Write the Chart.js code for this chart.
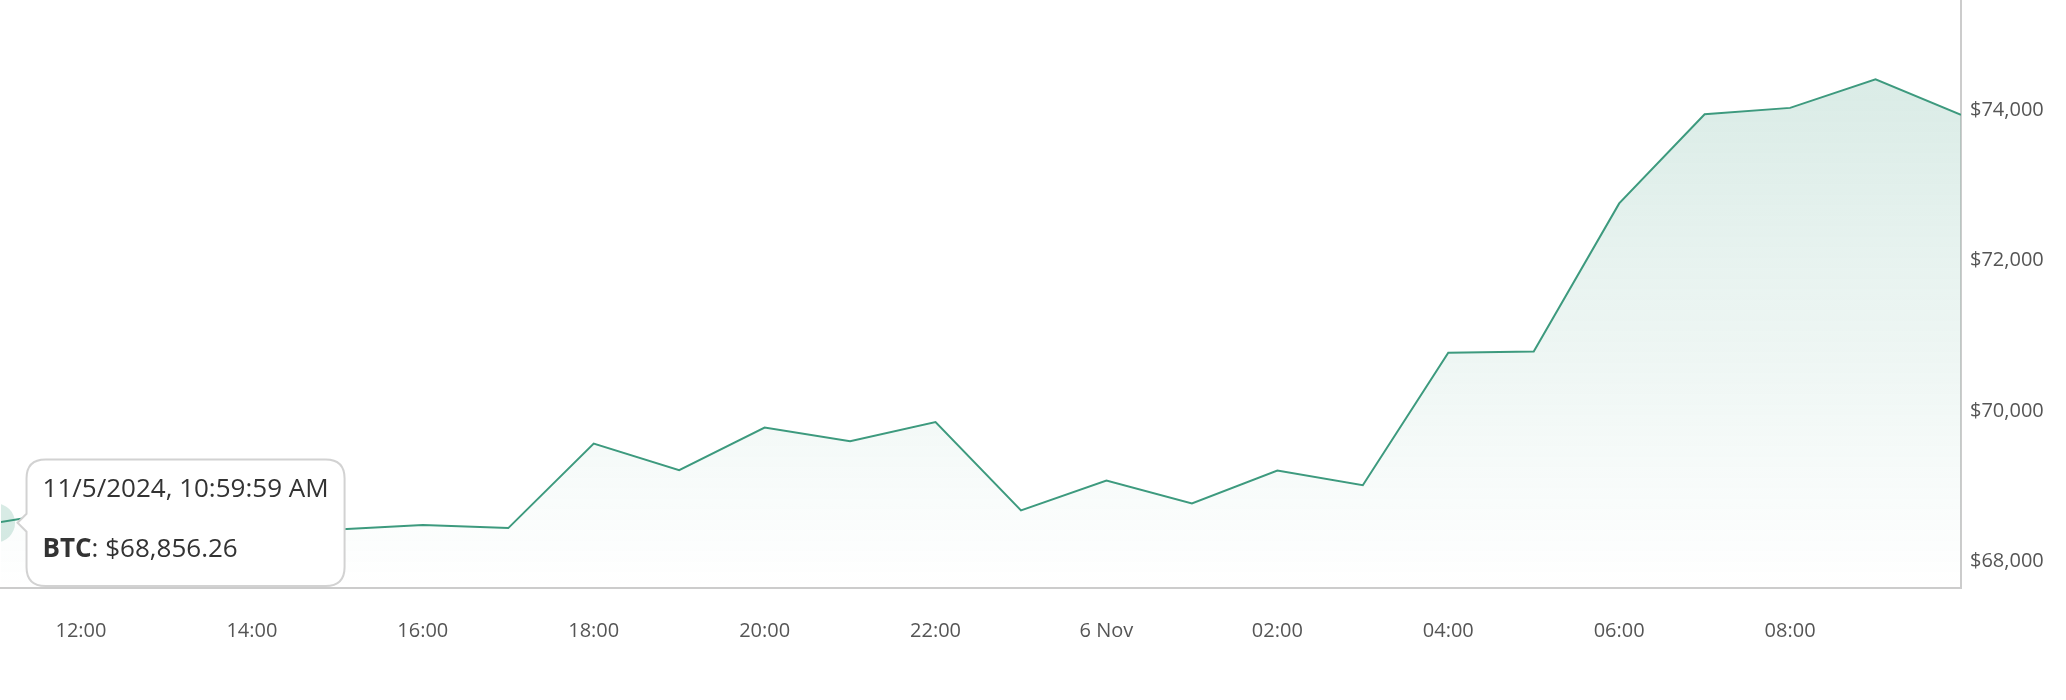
<!DOCTYPE html>
<html lang="en">
<head>
    <meta charset="UTF-8">
    <title>BTC price</title>
    <script src="https://cdn.jsdelivr.net/npm/chart.js"></script>
    <style>
        html, body { margin: 0; padding: 0; background: #fff; }
        .chart-container { position: relative; width: 2066px; height: 700px; }
    </style>
</head>
<body>
    <div class="chart-container">
        <canvas id="priceChart"></canvas>
    </div>

    <script>
        // hourly points, 5 Nov 11:00 -> 6 Nov 10:00
        const hourLabels = ['11:00', '12:00', '13:00', '14:00', '15:00', '16:00', '17:00', '18:00', '19:00', '20:00', '21:00', '22:00',
                            '23:00', '6 Nov', '01:00', '02:00', '03:00', '04:00', '05:00', '06:00', '07:00', '08:00', '09:00', '10:00'];
        const btcPrices = [68856.26, 69040, 68950, 68820, 68770, 68827, 68787, 69912, 69557, 70124, 69942, 70198,
                           69022, 69420, 69116, 69553, 69358, 71120, 71137, 73107, 74294, 74378, 74759, 74285];
        const xTickLabels = ['12:00', '14:00', '16:00', '18:00', '20:00', '22:00', '6 Nov', '02:00', '04:00', '06:00', '08:00'];
        const yTickValues = [68000, 70000, 72000, 74000];
        const seriesName = 'BTC';
        const hoverTime = '11/5/2024, 10:59:59 AM';

        const lineColor = '#3d9a7e';
        const tipSize = 26;
        const money = v => '$' + v.toLocaleString('en-US', { minimumFractionDigits: 2, maximumFractionDigits: 2 });

        // draw "BTC: $x" with the name in bold
        const boldLabel = {
            id: 'boldLabel',
            afterTooltipDraw(chart, args) {
                const tt = args.tooltip;
                if (!tt.dataPoints || !tt.dataPoints.length) return;
                const o = tt.options;
                const ctx = chart.ctx;
                const lh = tipSize * 1.2;
                const y = tt.y + o.padding.top + lh + o.titleMarginBottom + lh / 2;
                const x = tt.x + o.padding.left;
                ctx.save();
                ctx.textBaseline = 'middle';
                ctx.textAlign = 'left';
                ctx.fillStyle = '#333';
                ctx.font = 'bold ' + tipSize + 'px "Open Sans"';
                ctx.fillText(seriesName, x, y);
                const w = ctx.measureText(seriesName).width;
                ctx.font = tipSize + 'px "Open Sans"';
                ctx.fillText(': ' + money(tt.dataPoints[0].parsed.y), x + w, y);
                ctx.restore();
            }
        };

        const chart = new Chart(document.getElementById('priceChart'), {
            type: 'line',
            data: {
                datasets: [{
                    label: seriesName,
                    data: btcPrices.map((p, i) => ({ x: i, y: p })),
                    borderColor: lineColor,
                    borderWidth: 2,
                    tension: 0,
                    pointRadius: 0,
                    pointHoverRadius: 19.5,
                    pointHoverBorderWidth: 0,
                    pointHoverBackgroundColor: 'rgba(61, 154, 126, 0.2)',
                    fill: 'start',
                    backgroundColor: (c) => {
                        const area = c.chart.chartArea;
                        if (!area) return 'rgba(61, 154, 126, 0.1)';
                        const g = c.chart.ctx.createLinearGradient(0, area.top, 0, area.bottom);
                        g.addColorStop(0, 'rgba(61, 154, 126, 0.22)');
                        g.addColorStop(1, 'rgba(61, 154, 126, 0)');
                        return g;
                    }
                }]
            },
            options: {
                responsive: true,
                maintainAspectRatio: false,
                animation: false,
                events: [],
                layout: { padding: { left: 0, top: 0, right: 0, bottom: 58 } },
                plugins: {
                    legend: { display: false },
                    tooltip: {
                        enabled: true,
                        xAlign: 'left',
                        yAlign: 'center',
                        backgroundColor: '#fff',
                        borderColor: '#d2d2d2',
                        borderWidth: 2,
                        cornerRadius: 19,
                        caretSize: 9,
                        caretPadding: 23,
                        displayColors: false,
                        padding: { top: 14, bottom: 21, left: 16, right: 16 },
                        titleColor: '#333',
                        titleFont: { family: 'Open Sans', size: tipSize, weight: 'normal' },
                        titleMarginBottom: 29,
                        bodyColor: 'rgba(0,0,0,0)',
                        bodyFont: { family: 'Open Sans', size: tipSize },
                        callbacks: {
                            title: () => hoverTime,
                            label: (item) => seriesName + ': ' + money(item.parsed.y)
                        }
                    }
                },
                scales: {
                    x: {
                        type: 'linear',
                        min: 0.064,
                        max: hourLabels.length - 1,
                        grid: { display: false, drawTicks: false },
                        border: { display: true, color: '#cccccc', width: 2 },
                        afterBuildTicks: (axis) => {
                            axis.ticks = xTickLabels.map(l => ({ value: hourLabels.indexOf(l) }));
                        },
                        afterFit: (axis) => {
                            axis.height = 54;
                            axis.paddingLeft = 0;
                            axis.paddingRight = 0;
                        },
                        ticks: {
                            autoSkip: false,
                            maxRotation: 0,
                            padding: 31,
                            color: '#555',
                            font: { family: 'Open Sans', size: 20 },
                            callback: (v) => hourLabels[v]
                        }
                    },
                    y: {
                        position: 'right',
                        min: 67990,
                        max: 75800,
                        grid: { display: false, drawTicks: false },
                        border: { display: true, color: '#cccccc', width: 2 },
                        afterBuildTicks: (axis) => {
                            axis.ticks = yTickValues.map(v => ({ value: v }));
                        },
                        afterFit: (axis) => {
                            axis.width = 105;
                            axis.paddingTop = 0;
                            axis.paddingBottom = 0;
                        },
                        ticks: {
                            padding: 9,
                            labelOffset: -26,
                            color: '#555',
                            font: { family: 'Open Sans', size: 20 },
                            callback: (v) => '$' + v.toLocaleString('en-US')
                        }
                    }
                }
            },
            plugins: [boldLabel]
        });

        const active = [{ datasetIndex: 0, index: 0 }];
        chart.setActiveElements(active);
        chart.tooltip.setActiveElements(active, { x: 0, y: 0 });
        chart.update();
    </script>
</body>
</html>
